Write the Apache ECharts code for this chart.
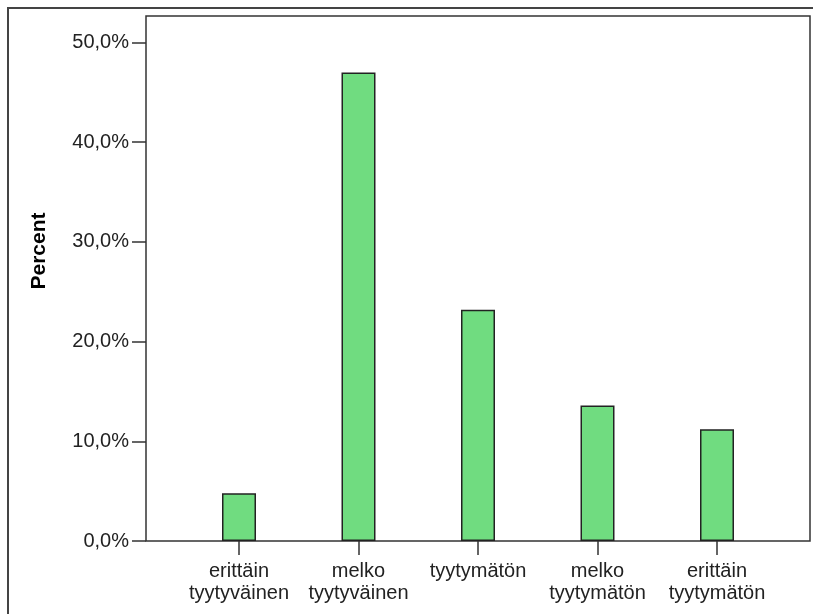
<!DOCTYPE html>
<html lang="fi">
<head>
    <meta charset="UTF-8">
    <title>Percent</title>
    <style>
        html, body {
            margin: 0;
            background: #fff;
        }

        #chart {
            width: 813px;
            height: 614px;
        }
    </style>
</head>
<body>
    <div id="chart"></div>

    <script src="https://cdn.jsdelivr.net/npm/echarts@6/dist/echarts.min.js"></script>
    <script>
        // data
        var categories = ['erittäin\ntyytyväinen', 'melko\ntyytyväinen', 'tyytymätön', 'melko\ntyytymätön', 'erittäin\ntyytymätön'];
        var percents = [4.8, 47.0, 23.2, 13.6, 11.2];
        var yTicks = [0, 10, 20, 30, 40, 50];

        var chart = echarts.init(document.getElementById('chart'));

        var font = 'Liberation Sans, Arial, sans-serif';
        var lineColor = '#333';

        var option = {
            animation: false,
            grid: [
                // outer plot frame
                { left: 146, right: 3, top: 16, bottom: 73, show: true, borderColor: lineColor, borderWidth: 1.5, backgroundColor: '#fff' },
                // bars sit in a narrower band so the categories have side padding
                { left: 179.25, right: 36.25, top: 16, bottom: 73 }
            ],
            xAxis: [
                { gridIndex: 0, type: 'value', show: false },
                {
                    gridIndex: 1,
                    type: 'category',
                    data: categories,
                    axisLine: { show: false },
                    axisTick: { show: true, alignWithLabel: true, length: 14, lineStyle: { color: lineColor, width: 1.5 } },
                    axisLabel: {
                        margin: 19,
                        interval: 0,
                        color: '#222',
                        fontFamily: font,
                        fontSize: 20,
                        lineHeight: 22
                    }
                }
            ],
            yAxis: [
                { gridIndex: 0, type: 'value', show: false },
                {
                    gridIndex: 1,
                    type: 'value',
                    min: 0,
                    max: 52.66,
                    interval: 10,
                    offset: 33.25,
                    splitLine: { show: false },
                    axisLine: { show: false },
                    axisTick: {
                        show: true,
                        length: 14,
                        customValues: yTicks,
                        lineStyle: { color: lineColor, width: 1.5 }
                    },
                    axisLabel: {
                        margin: 17,
                        customValues: yTicks,
                        color: '#222',
                        fontFamily: font,
                        fontSize: 20,
                        formatter: function (v) {
                            return v.toFixed(1).replace('.', ',') + '%';
                        }
                    }
                }
            ],
            graphic: [
                {
                    type: 'rect',
                    silent: true,
                    shape: { x: 8, y: 8, width: 840, height: 640 },
                    style: { fill: 'none', stroke: '#444', lineWidth: 2 }
                },
                {
                    type: 'text',
                    x: 39,
                    y: 251,
                    rotation: Math.PI / 2,
                    style: {
                        text: 'Percent',
                        fill: '#000',
                        font: 'bold 21px ' + font,
                        textAlign: 'center',
                        textVerticalAlign: 'middle'
                    }
                }
            ],
            series: [{
                type: 'bar',
                xAxisIndex: 1,
                yAxisIndex: 1,
                data: percents,
                barWidth: 34,
                itemStyle: {
                    color: '#70dc80',
                    borderColor: '#222',
                    borderWidth: 1.5
                }
            }]
        };

        chart.setOption(option);
    </script>
</body>
</html>
